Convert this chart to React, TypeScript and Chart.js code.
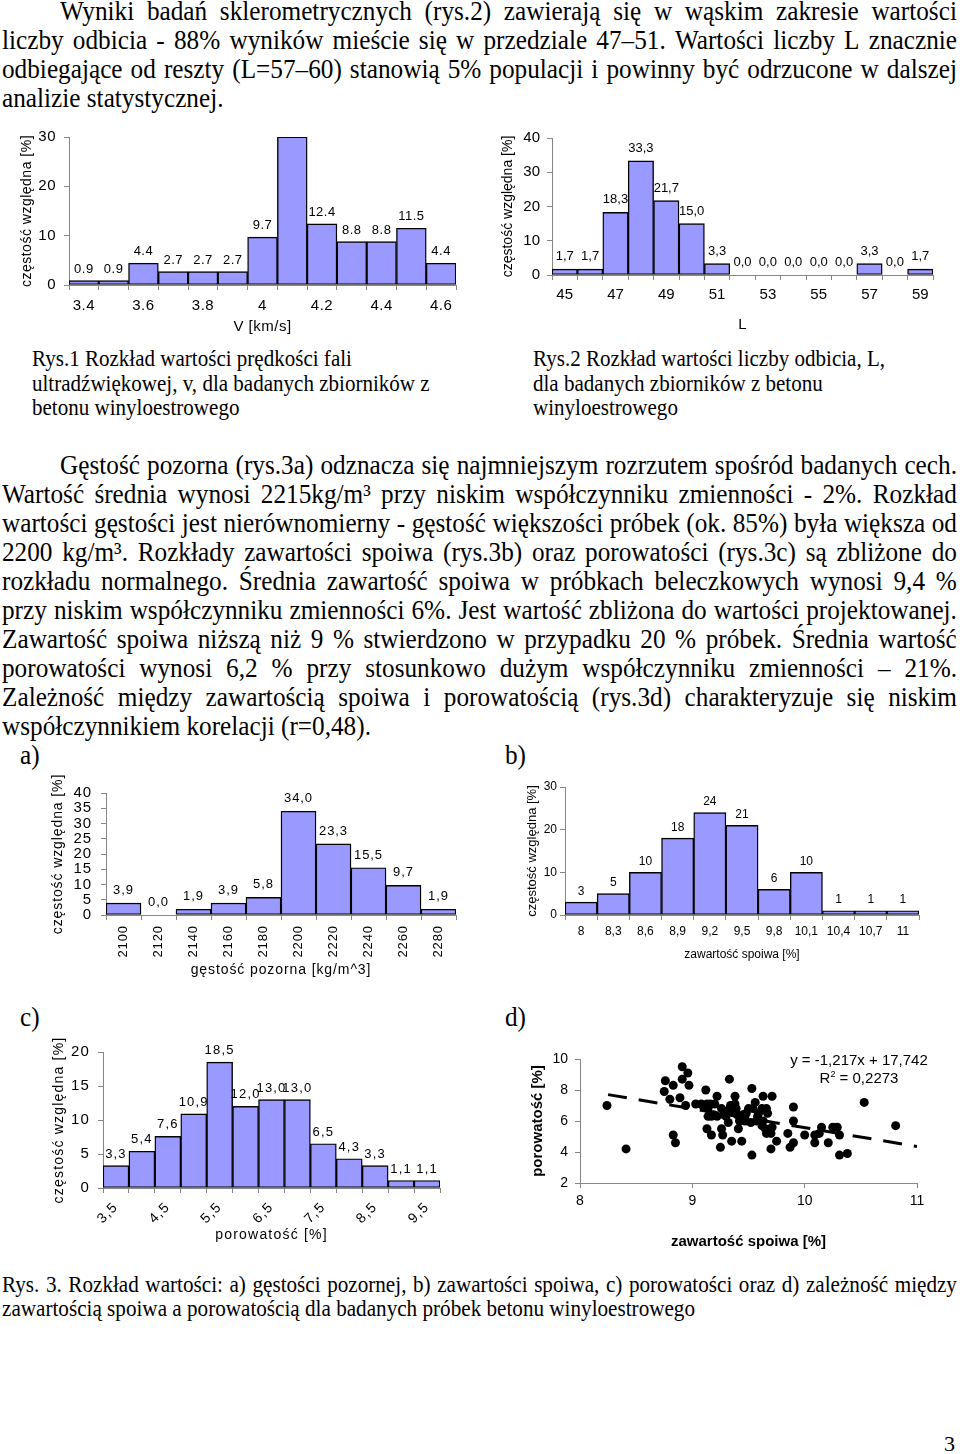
import React, { useEffect, useRef } from 'react';
import { Chart, registerables } from 'chart.js';

Chart.register(...registerables);

// ---------------- data ----------------
const velocityCats = ['3.4', '3.5', '3.6', '3.7', '3.8', '3.9', '4', '4.1', '4.2', '4.3', '4.4', '4.5', '4.6'];
const velocityValues = [0.9, 0.9, 4.4, 2.7, 2.7, 2.7, 9.7, 30.0, 12.4, 8.8, 8.8, 11.5, 4.4];

const reboundCats = ['45', '46', '47', '48', '49', '50', '51', '52', '53', '54', '55', '56', '57', '58', '59'];
const reboundValues = [1.7, 1.7, 18.3, 33.3, 21.7, 15.0, 3.3, 0.0, 0.0, 0.0, 0.0, 0.0, 3.3, 0.0, 1.7];

const densityCats = ['2100', '2120', '2140', '2160', '2180', '2200', '2220', '2240', '2260', '2280'];
const densityValues = [3.9, 0.0, 1.9, 3.9, 5.8, 34.0, 23.3, 15.5, 9.7, 1.9];

const binderCats = ['8', '8,3', '8,6', '8,9', '9,2', '9,5', '9,8', '10,1', '10,4', '10,7', '11'];
const binderValues = [3, 5, 10, 18, 24, 21, 6, 10, 1, 1, 1];

const porosityCats = ['3,5', '4', '4,5', '5', '5,5', '6', '6,5', '7', '7,5', '8', '8,5', '9', '9,5'];
const porosityValues = [3.3, 5.4, 7.6, 10.9, 18.5, 12.0, 13.0, 13.0, 6.5, 4.3, 3.3, 1.1, 1.1];

const scatterBinder = [
  8.24, 8.41, 8.75, 8.76, 8.80, 8.83, 8.83, 8.85, 8.91, 8.91,
  8.89, 8.96, 8.97, 8.94, 9.03, 9.08, 9.12, 9.13, 9.14, 9.14,
  9.13, 9.17, 9.17, 9.20, 9.22, 9.22, 9.25, 9.26, 9.27, 9.26,
  9.28, 9.32, 9.33, 9.32, 9.35, 9.38, 9.38, 9.39, 9.40, 9.41,
  9.42, 9.44, 9.45, 9.47, 9.50, 9.53, 9.54, 9.52, 9.53, 9.56,
  9.57, 9.59, 9.62, 9.63, 9.66, 9.63, 9.62, 9.65, 9.66, 9.71,
  9.71, 9.70, 9.70, 9.75, 9.85, 9.87, 9.90, 9.90, 9.90, 10.00,
  10.09, 10.09, 10.13, 10.15, 10.21, 10.25, 10.29, 10.31, 10.31, 10.38,
  10.53, 10.81, 9.16, 9.10, 9.19, 9.30, 9.36, 9.44, 9.48, 9.58,
  9.67, 9.34,
];
const scatterPorosity = [
  7.0, 4.2, 7.9, 8.6, 7.4, 8.3, 5.1, 4.6, 9.5, 8.7,
  7.5, 9.1, 8.3, 7.0, 7.1, 7.1, 8.0, 7.1, 6.8, 6.3,
  5.5, 5.1, 6.3, 7.1, 7.6, 6.3, 4.3, 5.5, 5.1, 6.8,
  6.4, 6.7, 8.7, 5.9, 4.7, 7.1, 7.6, 6.8, 6.4, 5.5,
  6.0, 4.7, 6.4, 6.0, 6.8, 8.1, 6.8, 5.9, 3.8, 7.2,
  6.0, 6.5, 6.8, 7.6, 6.8, 6.0, 5.7, 5.5, 5.2, 7.6,
  5.6, 5.2, 4.2, 4.7, 5.2, 4.3, 6.9, 6.0, 4.6, 5.1,
  4.6, 5.1, 5.2, 5.6, 4.6, 5.6, 5.6, 3.8, 5.1, 3.9,
  7.2, 5.7, 7.1, 6.9, 6.4, 6.3, 6.6, 6.2, 6.5, 6.3,
  6.5, 7.0,
];
const trendSlope = -1.217;
const trendIntercept = 17.742;
const trendRange = [8.25, 11];

// ---------------- text ----------------
const para1 = [
  'Wyniki badań sklerometrycznych (rys.2) zawierają się w wąskim zakresie wartości',
  'liczby odbicia - 88% wyników mieście się w przedziale 47–51. Wartości liczby L znacznie',
  'odbiegające od reszty (L=57–60) stanowią 5% populacji i powinny być odrzucone w dalszej',
  'analizie statystycznej.',
];
const para2 = [
  'Gęstość pozorna (rys.3a) odznacza się najmniejszym rozrzutem spośród badanych cech.',
  'Wartość średnia wynosi 2215kg/m³ przy niskim współczynniku zmienności - 2%. Rozkład',
  'wartości gęstości jest nierównomierny - gęstość większości próbek (ok. 85%) była większa od',
  '2200 kg/m³. Rozkłady zawartości spoiwa (rys.3b) oraz porowatości (rys.3c) są zbliżone do',
  'rozkładu normalnego. Średnia zawartość spoiwa w próbkach beleczkowych wynosi 9,4 %',
  'przy niskim współczynniku zmienności 6%. Jest wartość zbliżona do wartości projektowanej.',
  'Zawartość spoiwa niższą niż 9 % stwierdzono w przypadku 20 % próbek. Średnia wartość',
  'porowatości wynosi 6,2 % przy stosunkowo dużym współczynniku zmienności – 21%.',
  'Zależność między zawartością spoiwa i porowatością (rys.3d) charakteryzuje się niskim',
  'współczynnikiem korelacji (r=0,48).',
];
const caption1 = ['Rys.1 Rozkład wartości prędkości fali', 'ultradźwiękowej, v, dla badanych zbiorników z', 'betonu winyloestrowego'];
const caption2 = ['Rys.2 Rozkład wartości liczby odbicia, L,', 'dla badanych zbiorników z betonu', 'winyloestrowego'];
const caption3 = [
  'Rys. 3. Rozkład wartości: a) gęstości pozornej, b) zawartości spoiwa, c) porowatości oraz d) zależność między',
  'zawartością spoiwa a porowatością dla badanych próbek betonu winyloestrowego',
];

// ---------------- styling ----------------
const SANS = '"Liberation Sans", Arial, sans-serif';
const SERIF = '"Liberation Serif", "Times New Roman", serif';
const BAR_FILL = '#9999ff';
const AXIS_GREY = '#868686';

Chart.defaults.font.family = SANS;

const dot1 = (v: number) => v.toFixed(1);
const comma1 = (v: number) => v.toFixed(1).replace('.', ',');
const int0 = (v: number) => String(v);

function spacingPlugin(sp: string) {
  return {
    id: 'letterSpacing',
    beforeDraw(chart: any) {
      (chart.ctx as any).letterSpacing = sp;
    },
  };
}

function valueLabels(values: number[], fmt: (v: number) => string, size: number, offset: number) {
  return {
    id: 'valueLabels',
    afterDatasetsDraw(chart: any) {
      const { ctx, chartArea } = chart;
      const meta = chart.getDatasetMeta(0);
      ctx.save();
      ctx.font = `${size}px ${SANS}`;
      ctx.fillStyle = '#000';
      ctx.textAlign = 'center';
      ctx.textBaseline = 'bottom';
      meta.data.forEach((bar: any, i: number) => {
        if (bar.y <= chartArea.top + 1) return;
        ctx.fillText(fmt(values[i]), bar.x, bar.y - offset);
      });
      ctx.restore();
    },
  };
}

type BarSpec = {
  cats: string[];
  values: number[];
  yMax: number;
  yStep: number;
  box: number[];
  area: number[];
  yTitle: string;
  yTitleSize: number;
  yTitlePad: number;
  xTitle: string;
  xTitleSize: number;
  xTitlePad: number;
  yTickSize: number;
  yTickPad: number;
  xTickSize: number;
  xTickPad: number;
  rotation: number;
  showTick: (i: number) => boolean;
  fmt: (v: number) => string;
  labelSize: number;
  labelOffset: number;
  spacing: string;
};

function barConfig(s: BarSpec) {
  const [bl, bt, bw, bh] = s.box;
  const [al, at, ar, ab] = s.area;
  const yWidth = al - bl;
  const xHeight = bt + bh - ab;
  return {
    type: 'bar',
    data: {
      labels: s.cats,
      datasets: [
        {
          data: s.values,
          backgroundColor: BAR_FILL,
          borderColor: '#000',
          borderWidth: 1.4,
          borderSkipped: false,
          barPercentage: 1,
          categoryPercentage: 1,
        },
      ],
    },
    options: {
      responsive: false,
      animation: false,
      events: [],
      layout: { padding: { left: 0, top: at - bt, right: bl + bw - ar, bottom: 0 } },
      plugins: { legend: { display: false }, tooltip: { enabled: false } },
      scales: {
        x: {
          offset: true,
          afterFit: (sc: any) => {
            sc.height = xHeight;
          },
          grid: { offset: true, drawOnChartArea: false, drawTicks: true, tickLength: 5, color: AXIS_GREY },
          border: { color: AXIS_GREY, width: 1 },
          ticks: {
            autoSkip: false,
            minRotation: s.rotation,
            maxRotation: s.rotation,
            padding: s.xTickPad,
            color: '#000',
            font: { family: SANS, size: s.xTickSize },
            callback: (_v: any, i: number) => (s.showTick(i) ? s.cats[i] : ''),
          },
          title: {
            display: true,
            text: s.xTitle,
            color: '#000',
            font: { family: SANS, size: s.xTitleSize, lineHeight: 1 },
            padding: { top: 0, bottom: s.xTitlePad },
          },
        },
        y: {
          min: 0,
          max: s.yMax,
          afterFit: (sc: any) => {
            sc.width = yWidth;
          },
          grid: { drawOnChartArea: false, drawTicks: true, tickLength: 5, color: AXIS_GREY },
          border: { color: AXIS_GREY, width: 1 },
          ticks: {
            stepSize: s.yStep,
            autoSkip: false,
            padding: s.yTickPad,
            color: '#000',
            font: { family: SANS, size: s.yTickSize },
          },
          title: {
            display: true,
            text: s.yTitle,
            color: '#000',
            font: { family: SANS, size: s.yTitleSize, lineHeight: 1 },
            padding: { top: s.yTitlePad, bottom: 0 },
          },
        },
      },
    },
    plugins: [spacingPlugin(s.spacing), valueLabels(s.values, s.fmt, s.labelSize, s.labelOffset)],
  };
}

const Y_TITLE = 'częstość względna [%]';

const spec1: BarSpec = {
  cats: velocityCats, values: velocityValues, yMax: 30, yStep: 10,
  box: [0, 120, 475, 225], area: [69, 137, 456, 285],
  yTitle: Y_TITLE, yTitleSize: 14, yTitlePad: 20,
  xTitle: 'V [km/s]', xTitleSize: 15, xTitlePad: 10.5,
  yTickSize: 15, yTickPad: 8, xTickSize: 15, xTickPad: 6.5, rotation: 0,
  showTick: (i) => i % 2 === 0, fmt: dot1, labelSize: 13, labelOffset: 5, spacing: '0.5px',
};
const spec2: BarSpec = {
  cats: reboundCats, values: reboundValues, yMax: 40, yStep: 10,
  box: [485, 120, 475, 225], area: [552, 138, 933, 275],
  yTitle: Y_TITLE, yTitleSize: 14, yTitlePad: 16,
  xTitle: 'L', xTitleSize: 15, xTitlePad: 12.5,
  yTickSize: 15, yTickPad: 7, xTickSize: 15, xTickPad: 5.5, rotation: 0,
  showTick: (i) => i % 2 === 0, fmt: comma1, labelSize: 13, labelOffset: 6, spacing: '0px',
};
const specA: BarSpec = {
  cats: densityCats, values: densityValues, yMax: 40, yStep: 5,
  box: [30, 775, 440, 215], area: [106, 788, 456, 915],
  yTitle: Y_TITLE, yTitleSize: 14, yTitlePad: 21,
  xTitle: 'gęstość pozorna [kg/m^3]', xTitleSize: 14, xTitlePad: 13,
  yTickSize: 15, yTickPad: 9, xTickSize: 13, xTickPad: 5, rotation: 90,
  showTick: () => true, fmt: comma1, labelSize: 13, labelOffset: 6, spacing: '0.9px',
};
const specB: BarSpec = {
  cats: binderCats, values: binderValues, yMax: 30, yStep: 10,
  box: [500, 775, 450, 200], area: [565, 787, 919, 915],
  yTitle: Y_TITLE, yTitleSize: 13, yTitlePad: 26,
  xTitle: 'zawartość spoiwa [%]', xTitleSize: 12, xTitlePad: 14,
  yTickSize: 12, yTickPad: 3, xTickSize: 12, xTickPad: 4, rotation: 0,
  showTick: () => true, fmt: int0, labelSize: 12, labelOffset: 5, spacing: '0px',
};
const specC: BarSpec = {
  cats: porosityCats, values: porosityValues, yMax: 20, yStep: 5,
  box: [30, 1035, 440, 220], area: [103, 1050, 440, 1188],
  yTitle: Y_TITLE, yTitleSize: 14, yTitlePad: 22,
  xTitle: 'porowatość [%]', xTitleSize: 14, xTitlePad: 13,
  yTickSize: 15, yTickPad: 8, xTickSize: 14, xTickPad: 6, rotation: 45,
  showTick: (i) => i % 2 === 0, fmt: comma1, labelSize: 13, labelOffset: 5, spacing: '1.2px',
};

function scatterConfig() {
  const box = [500, 1040, 450, 220];
  const area = [580, 1059, 917, 1183];
  const [bl, bt, bw, bh] = box;
  const [al, at, ar, ab] = area;
  const yWidth = al - bl;
  const xHeight = bt + bh - ab;
  const points = scatterBinder.map((x, i) => ({ x, y: scatterPorosity[i] }));
  const trend = trendRange.map((x) => ({ x, y: trendSlope * x + trendIntercept }));
  return {
    type: 'scatter',
    data: {
      datasets: [
        {
          data: trend,
          showLine: true,
          borderColor: '#000',
          borderWidth: 3,
          borderDash: [19, 12],
          pointRadius: 0,
          fill: false,
        },
        {
          data: points,
          backgroundColor: '#000',
          borderColor: '#000',
          borderWidth: 0,
          pointRadius: 4.5,
        },
      ],
    },
    options: {
      responsive: false,
      animation: false,
      events: [],
      layout: { padding: { left: 0, top: at - bt, right: bl + bw - ar, bottom: 0 } },
      plugins: { legend: { display: false }, tooltip: { enabled: false } },
      scales: {
        x: {
          type: 'linear',
          min: 8,
          max: 11,
          afterFit: (sc: any) => {
            sc.height = xHeight;
          },
          grid: { drawOnChartArea: false, drawTicks: true, tickLength: 5, color: AXIS_GREY },
          border: { color: AXIS_GREY, width: 1 },
          ticks: { stepSize: 1, autoSkip: false, padding: 4.3, color: '#000', font: { family: SANS, size: 14 } },
          title: {
            display: true,
            text: 'zawartość spoiwa [%]',
            color: '#000',
            font: { family: SANS, size: 15, weight: 'bold', lineHeight: 1 },
            padding: { top: 0, bottom: 11 },
          },
        },
        y: {
          min: 2,
          max: 10,
          afterFit: (sc: any) => {
            sc.width = yWidth;
          },
          grid: { drawOnChartArea: false, drawTicks: true, tickLength: 5, color: AXIS_GREY },
          border: { color: AXIS_GREY, width: 1 },
          ticks: { stepSize: 2, autoSkip: false, padding: 7, color: '#000', font: { family: SANS, size: 14 } },
          title: {
            display: true,
            text: 'porowatość [%]',
            color: '#000',
            font: { family: SANS, size: 15, weight: 'bold', lineHeight: 1 },
            padding: { top: 30, bottom: 0 },
          },
        },
      },
    },
  };
}

// ---------------- components ----------------
function ChartBox({ box, build }: { box: number[]; build: () => any }) {
  const ref = useRef<HTMLCanvasElement>(null);
  useEffect(() => {
    const chart = new Chart(ref.current as HTMLCanvasElement, build() as any);
    return () => chart.destroy();
  }, []);
  const [l, t, w, h] = box;
  return (
    <canvas
      ref={ref}
      width={w}
      height={h}
      style={{ position: 'absolute', left: l, top: t, width: w, height: h, display: 'block' }}
    />
  );
}

type LineProps = {
  left: number;
  right?: number;
  baseline: number;
  size: number;
  scale: number;
  text: string;
  justify?: boolean;
};

function TextLine({ left, right = 957, baseline, size, scale, text, justify }: LineProps) {
  const style: React.CSSProperties = {
    position: 'absolute',
    left,
    top: baseline - 0.8375 * size,
    fontFamily: SERIF,
    fontSize: size,
    lineHeight: `${size}px`,
    transform: `scaleX(${scale})`,
    transformOrigin: '0 0',
    whiteSpace: 'nowrap',
    color: '#000',
  };
  if (justify) {
    return (
      <div style={{ ...style, width: (right - left) / scale, display: 'flex', justifyContent: 'space-between' }}>
        {text.split(' ').map((w, i) => (
          <span key={i}>{w}</span>
        ))}
      </div>
    );
  }
  return <div style={style}>{text}</div>;
}

function Paragraph({ lines, firstBaseline, step }: { lines: string[]; firstBaseline: number; step: number }) {
  return (
    <>
      {lines.map((t, i) => (
        <TextLine
          key={i}
          left={i === 0 ? 60 : 2}
          right={957}
          baseline={firstBaseline + i * step}
          size={27}
          scale={0.935}
          text={t}
          justify={i < lines.length - 1}
        />
      ))}
    </>
  );
}

export default function App() {
  return (
    <div
      style={{
        position: 'absolute',
        left: 0,
        top: 0,
        width: 960,
        height: 1454,
        overflow: 'hidden',
        background: '#fff',
      }}
    >
      <Paragraph lines={para1} firstBaseline={20.5} step={29} />

      <ChartBox box={spec1.box} build={() => barConfig(spec1)} />
      <ChartBox box={spec2.box} build={() => barConfig(spec2)} />

      {caption1.map((t, i) => (
        <TextLine key={'c1' + i} left={32} baseline={367 + i * 24.5} size={22.5} scale={0.935} text={t} />
      ))}
      {caption2.map((t, i) => (
        <TextLine key={'c2' + i} left={533} baseline={367 + i * 24.5} size={22.5} scale={0.935} text={t} />
      ))}

      <Paragraph lines={para2} firstBaseline={474.5} step={29} />

      <TextLine left={20} baseline={765} size={27} scale={0.935} text="a)" />
      <TextLine left={505} baseline={765} size={27} scale={0.935} text="b)" />

      <ChartBox box={specA.box} build={() => barConfig(specA)} />
      <ChartBox box={specB.box} build={() => barConfig(specB)} />

      <TextLine left={20} baseline={1027} size={27} scale={0.935} text="c)" />
      <TextLine left={505} baseline={1027} size={27} scale={0.935} text="d)" />

      <ChartBox box={specC.box} build={() => barConfig(specC)} />
      <ChartBox box={[500, 1040, 450, 220]} build={scatterConfig} />

      <div
        style={{
          position: 'absolute',
          left: 759,
          top: 1051,
          width: 200,
          textAlign: 'center',
          fontFamily: SANS,
          fontSize: 15,
          lineHeight: '18px',
          color: '#000',
        }}
      >
        <div>y = -1,217x + 17,742</div>
        <div>
          R<sup style={{ fontSize: 9, verticalAlign: 'top', lineHeight: '10px' }}>2</sup> = 0,2273
        </div>
      </div>

      {caption3.map((t, i) => (
        <TextLine
          key={'c3' + i}
          left={2}
          right={957}
          baseline={1293 + i * 24}
          size={22.5}
          scale={0.94}
          text={t}
          justify={i === 0}
        />
      ))}

      <TextLine left={944} baseline={1451} size={22} scale={1} text="3" />
    </div>
  );
}
